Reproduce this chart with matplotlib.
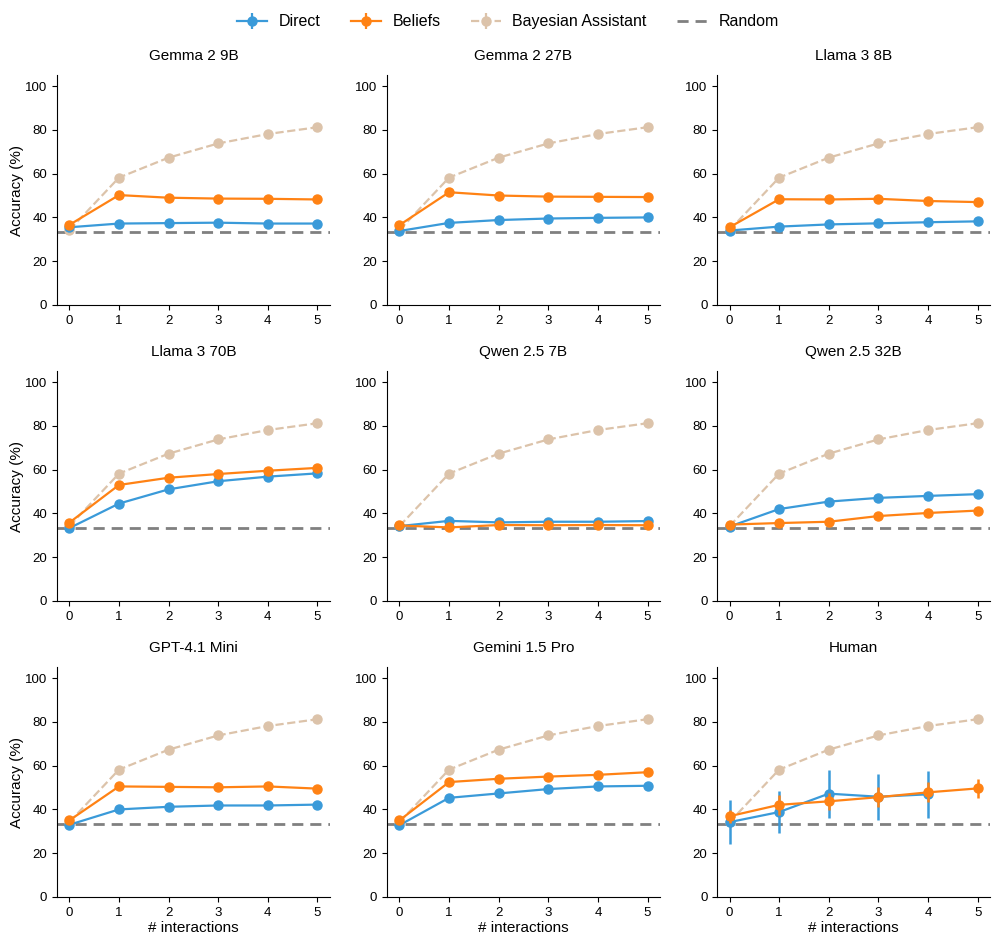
import numpy as np
import matplotlib
matplotlib.use("Agg")
import matplotlib.pyplot as plt
from matplotlib.lines import Line2D

plt.rcParams['font.family'] = ['Liberation Sans', 'DejaVu Sans']

x = [0, 1, 2, 3, 4, 5]
titles = ["Gemma 2 9B", "Gemma 2 27B", "Llama 3 8B",
          "Llama 3 70B", "Qwen 2.5 7B", "Qwen 2.5 32B",
          "GPT-4.1 Mini", "Gemini 1.5 Pro", "Human"]

bayesian = [34.2, 58.2, 67.3, 73.8, 78.1, 81.2]
random_acc = 33.33

direct = [
    [35.5, 37.2, 37.4, 37.6, 37.2, 37.2],
    [33.8, 37.5, 38.8, 39.5, 39.8, 40.0],
    [34.0, 35.8, 36.8, 37.3, 37.8, 38.2],
    [33.3, 44.5, 51.0, 54.7, 56.8, 58.3],
    [34.2, 36.6, 35.9, 36.2, 36.2, 36.5],
    [34.0, 42.0, 45.4, 47.1, 48.0, 48.8],
    [33.0, 40.0, 41.2, 41.8, 41.8, 42.2],
    [32.8, 45.3, 47.3, 49.3, 50.5, 50.8],
    [34.2, 38.8, 47.2, 45.8, 46.9, np.nan],
]
beliefs = [
    [36.6, 50.2, 49.0, 48.6, 48.5, 48.2],
    [36.5, 51.5, 50.0, 49.5, 49.4, 49.3],
    [35.5, 48.3, 48.2, 48.5, 47.5, 47.0],
    [35.8, 53.0, 56.3, 58.0, 59.5, 60.8],
    [34.5, 33.6, 34.7, 34.6, 34.7, 34.6],
    [34.9, 35.6, 36.2, 38.8, 40.2, 41.3],
    [35.0, 50.5, 50.3, 50.1, 50.5, 49.5],
    [35.0, 52.5, 54.0, 55.0, 55.8, 57.0],
    [36.9, 42.1, 43.7, 45.6, 47.8, 49.6],
]
human_direct_err = [10.0, 9.7, 11.0, 10.5, 10.8, np.nan]
human_beliefs_err = [3.0, 4.5, 4.0, 4.5, 4.5, 4.5]

c_direct = '#3a9ad9'
c_beliefs = '#ff8214'
c_bayes = '#dcc3aa'
c_random = '#808080'

lw = 1.6
ms = 6.5

fig = plt.figure(figsize=(9.96, 9.46), dpi=100)
lefts = [0.0572, 0.3886, 0.7200]
bottoms = [0.6776, 0.3647, 0.0518]
w, h = 0.274, 0.243

for i, title in enumerate(titles):
    r, c = divmod(i, 3)
    ax = fig.add_axes([lefts[c], bottoms[r], w, h])
    ax.axhline(random_acc, color=c_random, ls=(0, (4, 2.5)), lw=2, zorder=1)
    ax.plot(x, bayesian, color=c_bayes, ls='--', lw=lw, marker='o', ms=ms, zorder=2)
    if title == "Human":
        ax.errorbar(x, direct[i], yerr=human_direct_err, color=c_direct, lw=lw,
                    marker='o', ms=ms, elinewidth=1.8, capsize=0, zorder=3)
        ax.errorbar(x, beliefs[i], yerr=human_beliefs_err, color=c_beliefs, lw=lw,
                    marker='o', ms=ms, elinewidth=1.8, capsize=0, zorder=4)
    else:
        ax.plot(x, direct[i], color=c_direct, lw=lw, marker='o', ms=ms, zorder=3)
        ax.plot(x, beliefs[i], color=c_beliefs, lw=lw, marker='o', ms=ms, zorder=4)
    ax.set_ylim(0, 105)
    ax.set_xlim(-0.25, 5.25)
    ax.set_xticks(x)
    ax.set_yticks([0, 20, 40, 60, 80, 100])
    ax.set_title(title, fontsize=11, pad=11)
    ax.spines['top'].set_visible(False)
    ax.spines['right'].set_visible(False)
    ax.tick_params(labelsize=9.5)
    if c == 0:
        ax.set_ylabel("Accuracy (%)", fontsize=11, labelpad=1)
    if r == 2:
        ax.set_xlabel("# interactions", fontsize=11, labelpad=2)

# legend
fig_ax = fig.axes[0]
handles = []
labels = ["Direct", "Beliefs", "Bayesian Assistant", "Random"]
for col, ls in [(c_direct, '-'), (c_beliefs, '-'), (c_bayes, '--')]:
    hnd = fig_ax.errorbar([np.nan], [np.nan], yerr=[1], color=col, ls=ls, marker='o', ms=ms, lw=lw)
    handles.append(hnd)
handles.append(Line2D([], [], color=c_random, ls=(0, (4, 2.5)), lw=2))
fig.legend(handles, labels, loc='upper center', ncol=4, frameon=False,
           bbox_to_anchor=(0.51, 1.0), fontsize=11.5, handlelength=1.9,
           columnspacing=1.9, handletextpad=0.7)

fig.savefig("out.png", dpi=100)
